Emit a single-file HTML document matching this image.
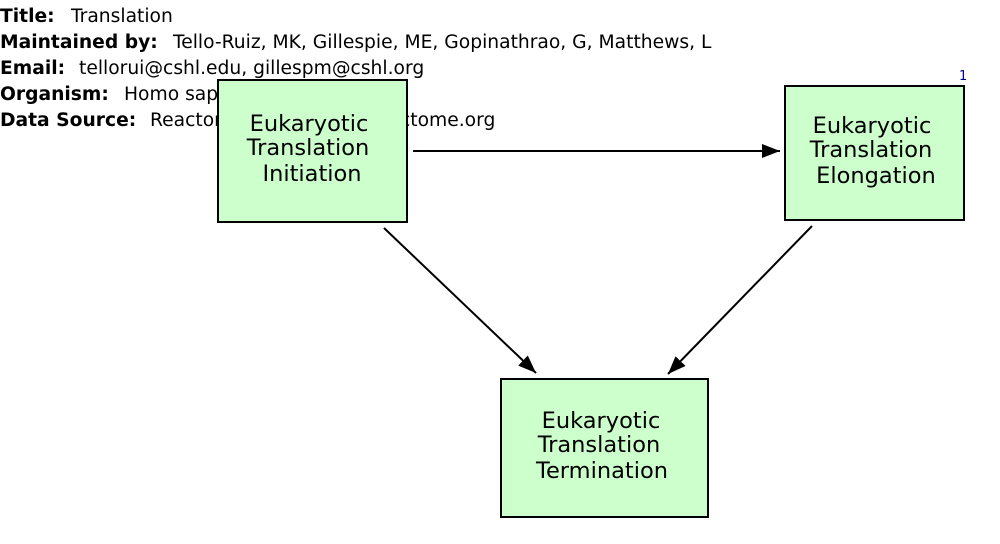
<!DOCTYPE html>
<html><head><style>body{margin:0;background:#fff}svg{display:block}</style></head><body>
<svg width="1000" height="544" xmlns="http://www.w3.org/2000/svg" font-family="DejaVu Sans, sans-serif">
<defs>
<marker id="b" viewBox="0 0 18 14" markerWidth="18" markerHeight="14" refX="18" refY="7" orient="auto" markerUnits="userSpaceOnUse"><path d="M0,0L18,7L0,14z"/></marker></defs>
<g font-size="18.7">
<text x="0" y="22"><tspan font-weight="bold">Title:</tspan><tspan x="71">Translation</tspan></text>
<text x="0" y="48"><tspan font-weight="bold">Maintained by:</tspan><tspan x="173">Tello-Ruiz, MK, Gillespie, ME, Gopinathrao, G, Matthews, L</tspan></text>
<text x="0" y="74"><tspan font-weight="bold">Email:</tspan><tspan x="79">tellorui@cshl.edu, gillespm@cshl.org</tspan></text>
<text x="0" y="100"><tspan font-weight="bold">Organism:</tspan><tspan x="124">Homo sapiens</tspan></text>
<text x="0" y="126"><tspan font-weight="bold">Data Source:</tspan><tspan x="150">Reactome - http://www.reactome.org</tspan></text>
</g>
<text x="959" y="80" font-size="13" fill="#00008b">1</text>
<g stroke="#000" stroke-width="2" fill="none">
<line x1="413" y1="151" x2="780" y2="151" marker-end="url(#b)"/>
<line x1="384" y1="228" x2="536" y2="373" marker-end="url(#b)"/>
<line x1="812" y1="226" x2="668" y2="374" marker-end="url(#b)"/>
</g>
<g fill="#ccffcc" stroke="#000" stroke-width="2">
<rect x="218" y="80" width="189" height="142"/>
<rect x="785" y="86" width="179" height="134"/>
<rect x="501" y="379" width="207" height="138"/>
</g>
<g font-size="22.5" text-anchor="middle">
<text x="309" y="131">Eukaryotic</text><text x="308" y="155">Translation</text><text x="312" y="181">Initiation</text>
<text x="872" y="133">Eukaryotic</text><text x="871" y="157">Translation</text><text x="876" y="183">Elongation</text>
<text x="601" y="428">Eukaryotic</text><text x="599" y="452">Translation</text><text x="602" y="478">Termination</text>
</g>
</svg>
</body></html>
